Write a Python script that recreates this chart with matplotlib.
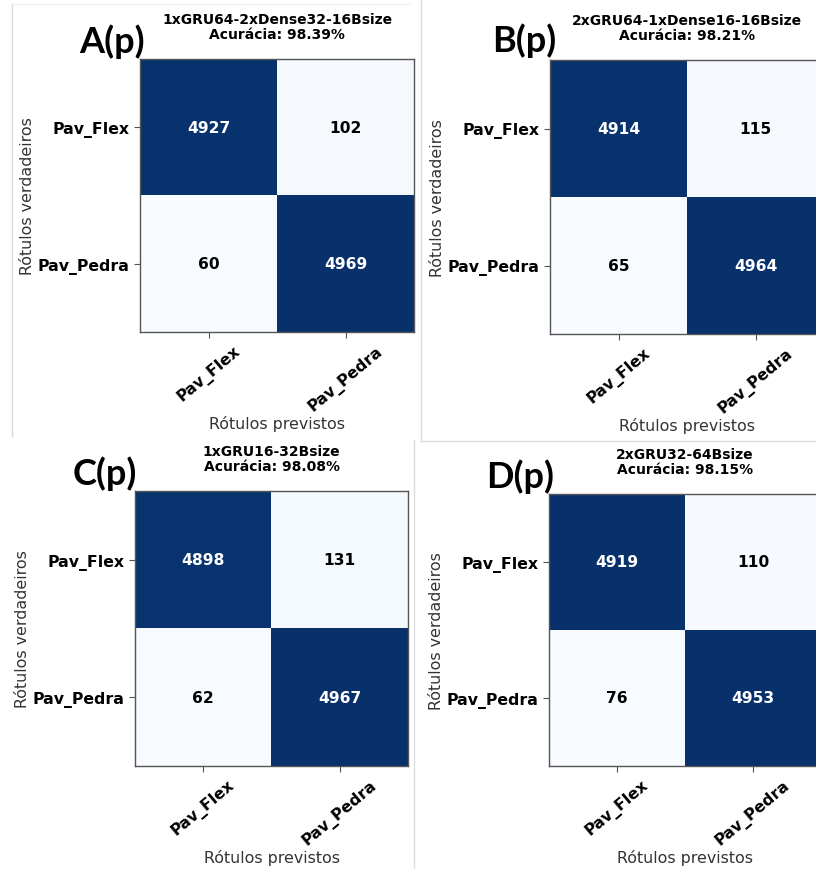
import matplotlib
matplotlib.use("Agg")
import matplotlib.pyplot as plt
from matplotlib.lines import Line2D
import numpy as np

classes = ["Pav_Flex", "Pav_Pedra"]
panel_tags = ["A(p)", "B(p)", "C(p)", "D(p)"]
model_names = [
    "1xGRU64-2xDense32-16Bsize",
    "2xGRU64-1xDense16-16Bsize",
    "1xGRU16-32Bsize",
    "2xGRU32-64Bsize",
]
cm_a = [[4927, 102], [60, 4969]]
cm_b = [[4914, 115], [65, 4964]]
cm_c = [[4898, 131], [62, 4967]]
cm_d = [[4919, 110], [76, 4953]]
matrices = [cm_a, cm_b, cm_c, cm_d]

W, H = 816, 870

# heatmap boxes in pixels (left, top, right, bottom)
boxes = [(140, 60, 414, 333), (550, 61, 824, 335),
         (135, 492, 408, 767), (549, 495, 821, 767)]
# panel tag centre x and baseline y, in pixels
tag_pos = [(112, 53), (524, 52), (105, 485), (520, 488)]


def px(x, y):
    return x / W, 1 - y / H


fig = plt.figure(figsize=(W / 100, H / 100), dpi=100)
fig.patch.set_facecolor("white")

for cm, name, tag, box, tpos in zip(matrices, model_names, panel_tags, boxes, tag_pos):
    cm = np.array(cm)
    acc = np.trace(cm) / cm.sum() * 100
    x0, y0, x1, y1 = box
    ax = fig.add_axes([x0 / W, 1 - y1 / H, (x1 - x0) / W, (y1 - y0) / H])
    ax.imshow(cm, cmap="Blues", interpolation="nearest", aspect="auto")

    ax.set_xticks(range(len(classes)))
    ax.set_xticklabels(classes, rotation=40, fontsize=11.3, fontweight="bold")
    ax.set_yticks(range(len(classes)))
    ax.set_yticklabels(classes, fontsize=11.3, fontweight="bold")
    ax.tick_params(color="#555555", length=4)
    for s in ax.spines.values():
        s.set_color("#555555")
        s.set_linewidth(1)

    ax.set_title("%s\nAcurácia: %.2f%%" % (name, acc), fontsize=10,
                 fontweight="bold", pad=15, linespacing=1.15)
    ax.set_xlabel("Rótulos previstos", fontsize=11.4, color="#333333",
                  labelpad=1)
    ax.set_ylabel("Rótulos verdadeiros", fontsize=11.4, color="#333333",
                  labelpad=2)

    thresh = cm.max() / 2
    for i in range(cm.shape[0]):
        for j in range(cm.shape[1]):
            ax.text(j, i, str(cm[i, j]), ha="center", va="center",
                    fontsize=11.2, fontweight="bold",
                    color="white" if cm[i, j] > thresh else "black")

    fig.text(*px(*tpos), tag, ha="center", va="baseline",
             fontsize=26, fontweight="bold", family=["Lato", "DejaVu Sans"])

# light frame lines around the individual panels
frame = [((12, 5), (12, 437), "#d9d9d9"), ((12, 5), (410, 5), "#f0f0f0"),
         ((421, 0), (421, 442), "#dddddd"), ((421, 442), (816, 442), "#dddddd"),
         ((414, 441), (414, 870), "#dddddd")]
for (xa, ya), (xb, yb), c in frame:
    pa, pb = px(xa, ya), px(xb, yb)
    fig.add_artist(Line2D([pa[0], pb[0]], [pa[1], pb[1]],
                          transform=fig.transFigure, color=c, lw=1))

plt.savefig("out.png", dpi=100)
